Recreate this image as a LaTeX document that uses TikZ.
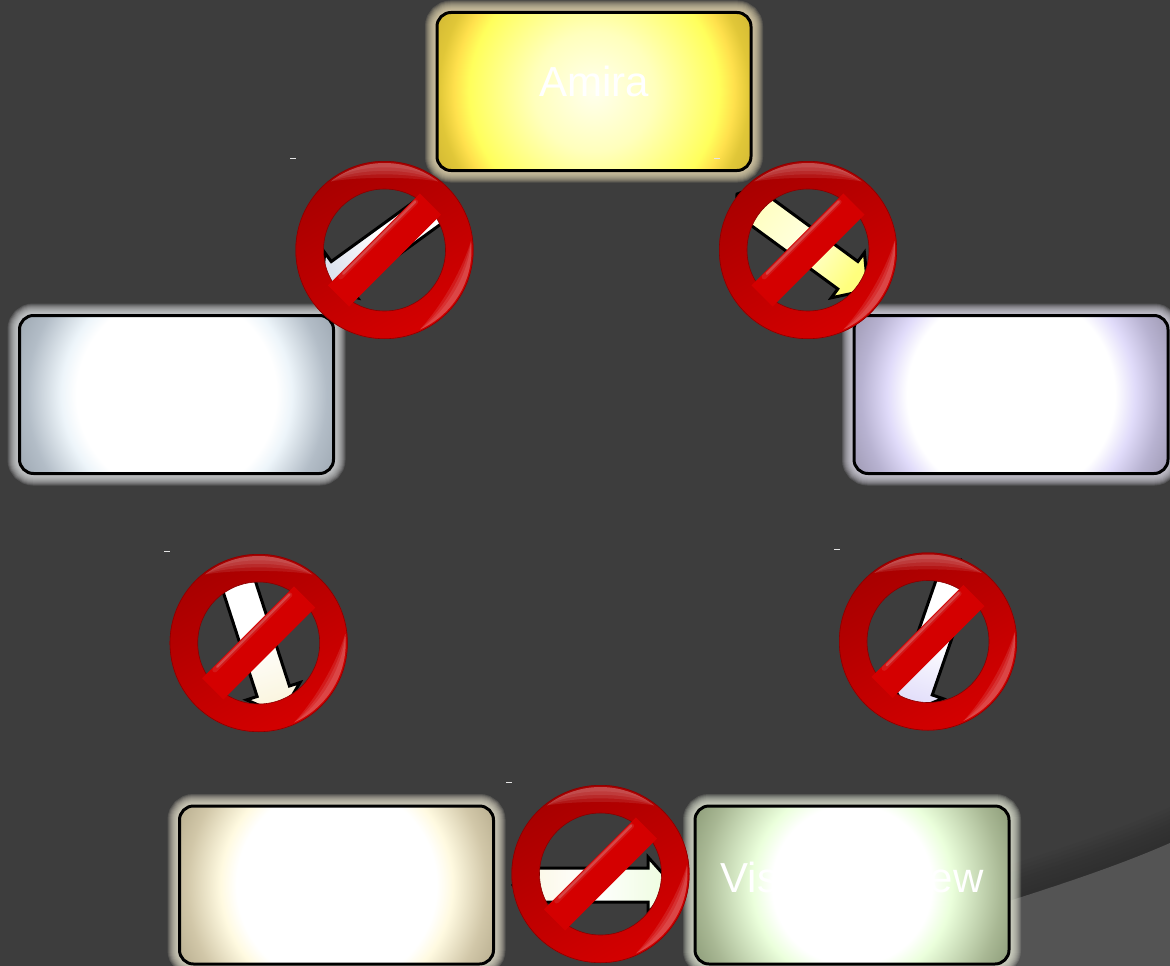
\documentclass[tikz,border=0pt]{standalone}
\usepackage{fontspec}
\setmainfont{Liberation Sans}
\usetikzlibrary{calc}
\definecolor{bggrey}{RGB}{61,61,61}
\definecolor{wedgegrey}{RGB}{84,84,84}
\definecolor{glowamira}{RGB}{232,218,178}
\definecolor{glowleft}{RGB}{220,222,224}
\definecolor{glowright}{RGB}{220,218,230}
\definecolor{glowcream}{RGB}{230,225,205}
\definecolor{glowview}{RGB}{225,230,212}
\definecolor{headyellow}{RGB}{255,255,125}
\definecolor{tailyellow}{RGB}{255,255,190}
\definecolor{headblue}{RGB}{220,226,238}
\definecolor{headcream}{RGB}{250,245,222}
\definecolor{headlav}{RGB}{226,222,250}
\definecolor{headgreen}{RGB}{236,252,220}
\definecolor{ringdark}{RGB}{168,0,0}
\definecolor{ringlight}{RGB}{212,0,0}
\definecolor{barhi}{RGB}{214,70,70}
\definecolor{barmid}{RGB}{238,0,0}
\definecolor{barlow}{RGB}{212,0,0}
\definecolor{rimred}{RGB}{135,0,0}
% stops: 1bp is 8 units of the 200pt circle
\pgfdeclareradialshading{shamira}{\pgfpoint{0bp}{0bp}}{rgb(0bp)=(1,1,.93);rgb(7.5bp)=(1,1,.74);rgb(15.6bp)=(1,1,.36);rgb(17.5bp)=(1,.88,.3);rgb(19.4bp)=(.88,.78,.22);rgb(22bp)=(.82,.72,.2);rgb(50bp)=(.82,.72,.2)}
\pgfdeclareradialshading{shleft}{\pgfpoint{0bp}{0bp}}{rgb(0bp)=(1,1,1);rgb(12.5bp)=(1,1,1);rgb(14.4bp)=(.93,.96,.98);rgb(18.75bp)=(.7,.74,.78);rgb(22bp)=(.62,.66,.7);rgb(50bp)=(.62,.66,.7)}
\pgfdeclareradialshading{shright}{\pgfpoint{0bp}{0bp}}{rgb(0bp)=(1,1,1);rgb(13bp)=(1,1,1);rgb(15.5bp)=(.88,.86,.98);rgb(18.75bp)=(.72,.7,.82);rgb(22bp)=(.62,.6,.7);rgb(50bp)=(.62,.6,.7)}
\pgfdeclareradialshading{shcream}{\pgfpoint{0bp}{0bp}}{rgb(0bp)=(1,1,1);rgb(12.5bp)=(1,1,1);rgb(14.5bp)=(1,.98,.88);rgb(18.75bp)=(.82,.78,.66);rgb(22bp)=(.72,.68,.56);rgb(50bp)=(.72,.68,.56)}
\pgfdeclareradialshading{shview}{\pgfpoint{0bp}{0bp}}{rgb(0bp)=(1,1,1);rgb(10bp)=(1,1,1);rgb(12.5bp)=(.92,1,.86);rgb(18.75bp)=(.66,.72,.58);rgb(22bp)=(.55,.61,.47);rgb(50bp)=(.55,.61,.47)}

\begin{document}
\begin{tikzpicture}[x=1pt,y=-1pt,
  box/.style={draw=black, line width=3pt, rounded corners=14pt, inner sep=0pt,
    minimum width=314pt, minimum height=158pt},
  boxtext/.style={text=white, inner sep=0pt, font=\fontsize{42}{42}\selectfont},
  arr/.style={draw=black, line width=3pt, line join=miter}]
\useasboundingbox (0,0) rectangle (1170,966);
\fill[bggrey] (0,0) rectangle (1170,966);
% corner wedge with its soft shadow
\foreach \d in {36,32,28,24,20,16,12,8,4}
  \fill[black, opacity=.02] (990,907-\d) .. controls (1060,885-\d) and (1120,865-\d) .. (1170,843-\d) -- (1170,966) -- (990,966) -- cycle;
\fill[wedgegrey] (990,907) .. controls (1060,885) and (1120,865) .. (1170,843) -- (1170,966) -- (990,966) -- cycle;
% boxes
\foreach \n/\x/\y/\s/\g in {amira/594/91.5/shamira/glowamira,left/176.5/394.5/shleft/glowleft,
    right/1011/394.5/shright/glowright,cream/336.5/885/shcream/glowcream,view/852/885/shview/glowview} {
  \foreach \w in {24,22,20,18,16,14,12,10,8,6,4}
    \draw[\g, opacity=.15, line width=\w pt, rounded corners=14pt] (\x-157,\y-79) rectangle (\x+157,\y+79);
  \node[box, path picture={\shade[shading=\s] (path picture bounding box.center) circle (200pt);}] (\n) at (\x,\y) {};
}
\node[boxtext] (amiratext) at (594,81) {Amira};
\node[boxtext] (viewtext) at (852,877) {Visual Review};
% small dashes
\foreach \x/\y in {293/158,717/158,167/551,837/549,509/782}
  \draw[white!90!black, line width=.9pt] (\x-3,\y) -- (\x+3,\y);
% arrows, hidden ends sit under the rings
\coordinate (ta) at (737,194); \coordinate (pa) at (868,290);
\coordinate (tb) at (452,195); \coordinate (pb) at (321,290);
\coordinate (tc) at (231,561); \coordinate (pc) at (281,715);
\coordinate (td) at (961,560); \coordinate (pd) at (908,713);
\coordinate (te) at (513,885); \coordinate (pe) at (673,885);
\foreach \t/\p/\ang/\ch/\cm/\cl in {ta/pa/-125.6/headyellow/white!50!tailyellow/tailyellow,
    tb/pb/125.8/headblue/white/white,tc/pc/-162/headcream/white/white,
    td/pd/161/headlav/white/white,te/pe/-90/headgreen/white/headcream} {
  \coordinate (nk) at ($(\p)!25pt!(\t)$);
  \coordinate (sh) at ($(\t)!12pt!(\p)$);
  \draw[arr, top color=\ch, bottom color=\cl, middle color=\cm, shading angle=\ang]
    (\t) -- ($(sh)!17pt!90:(\p)$) -- ($(nk)!17pt!90:(\p)$) -- ($(nk)!28pt!90:(\p)$) -- (\p)
    -- ($(nk)!28pt!-90:(\p)$) -- ($(nk)!17pt!-90:(\p)$) -- ($(sh)!17pt!-90:(\p)$) -- cycle;
}
% rings
\foreach \n/\x/\y in {ringa/808/250,ringb/384.5/250,ringc/258.7/643,ringd/928/641.5,ringe/600.5/874} {
  \begin{scope}[shift={(\x,\y)},x=1pt,y=1pt]
  \coordinate (\n) at (0,0);
  \shade[even odd rule, top color=ringdark, bottom color=ringlight, shading angle=30] (0,0) circle (89pt) (0,0) circle (61pt);
  \draw[rimred, line width=.6pt] (0,0) circle (88.7pt) (0,0) circle (61pt);
  % gloss on the rim
  \foreach \d in {78,83,88,93}
    \fill[white, opacity=.085] (128:87) arc[start angle=128,end angle=52,radius=87] .. controls (70:\d) and (110:\d) .. cycle;
  \foreach \d in {80,84,88}
    \fill[white, opacity=.1] (6:87) arc[start angle=6,end angle=-66,radius=87] .. controls (-45:\d) and (-15:\d) .. cycle;
  \begin{scope}[rotate=45]
  \shade[left color=barlow, middle color=barmid, right color=barlow] (-65,-15) rectangle (65,15);
  \draw[barhi, opacity=.35, line width=5pt, line cap=round] (-50,12) -- (56,12);
  \draw[barhi, line width=2.4pt, line cap=round] (-46,12.5) -- (56,12.5);
  \end{scope}
  \end{scope}
}
\end{tikzpicture}
\end{document}
